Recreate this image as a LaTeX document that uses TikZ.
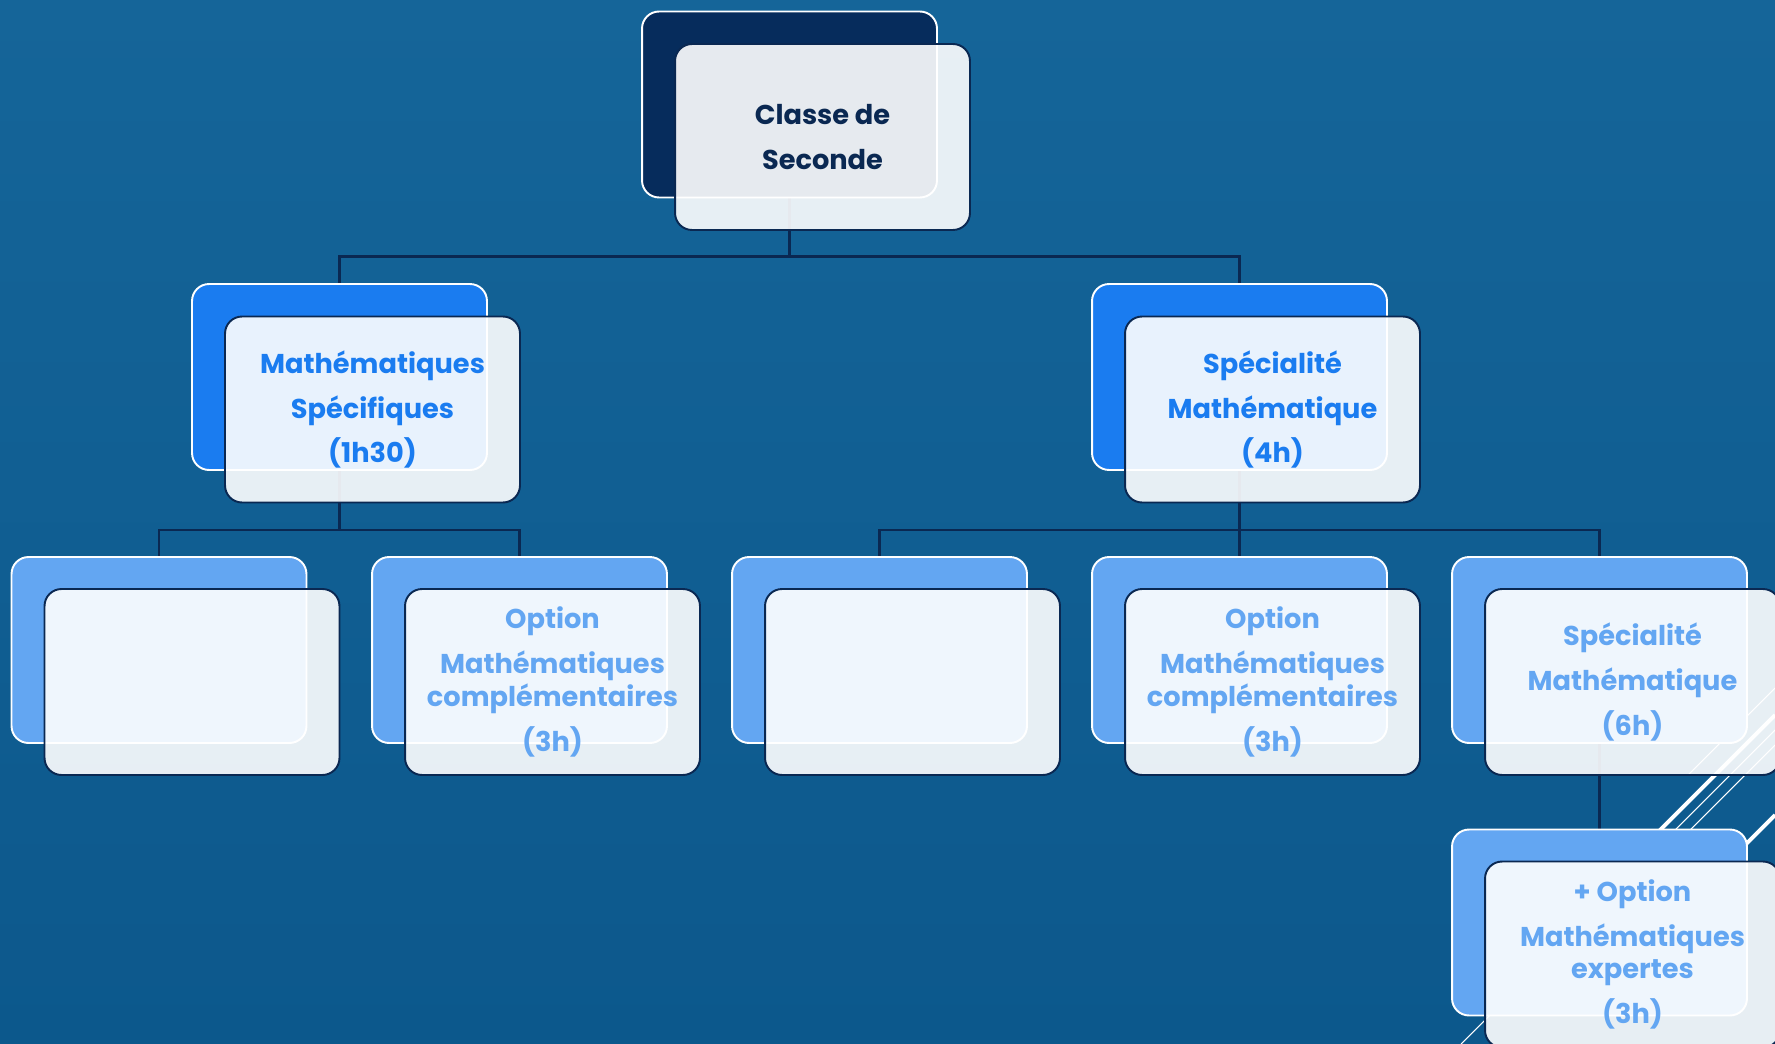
\documentclass[tikz,border=0pt]{standalone}
\usepackage{fontspec}
\setmainfont{Poppins}
\usetikzlibrary{backgrounds}

\definecolor{slidetop}{RGB}{21,101,153}
\definecolor{slidebot}{RGB}{12,88,140}
\definecolor{navy}{RGB}{6,44,92}
\definecolor{linenavy}{RGB}{10,40,82}
\definecolor{brightblue}{RGB}{26,124,240}
\definecolor{paleblue}{RGB}{99,166,242}

\begin{document}
\begin{tikzpicture}[
            x = 0.02cm, y = -0.02cm, % one unit per pixel, y going down
            backbox/.style = {
                draw = white,
                line width = 1.1pt,
                rounded corners = 0.34cm,
                minimum width = 5.9cm,
                minimum height = 3.72cm
            },
            frontbox/.style = {
                draw = linenavy,
                line width = 1.1pt,
                rounded corners = 0.34cm,
                fill = white,
                fill opacity = 0.9,
                text opacity = 1,
                minimum width = 5.9cm,
                minimum height = 3.72cm,
                align = center,
                font = \bfseries\fontsize{15.5}{18.7}\selectfont
            },
            link/.style = {draw = linenavy, line width = 1.4pt},
        ]

  \useasboundingbox (0,0) rectangle (1775,1044);

  % top
  \node[backbox, fill = navy] (rootb) at (789.5,104.5) {};
  \node[frontbox, text = linenavy] (root) at (822.5,137) {Classe de\\[6.8pt]Seconde};

  % second row
  \node[backbox, fill = brightblue] (specb) at (339.5,377) {};
  \node[frontbox, text = brightblue] (spec) at (372.5,409.5) {Mathématiques\\[6.8pt]Spécifiques\\[6.8pt](1h30)};
  \node[backbox, fill = brightblue] (mathb) at (1239.5,377) {};
  \node[frontbox, text = brightblue] (math) at (1272.5,409.5) {Spécialité\\[6.8pt]Mathématique\\[6.8pt](4h)};

  % third row
  \node[backbox, fill = paleblue] (c1b) at (159,650) {};
  \node[frontbox] (c1) at (192,682) {};
  \node[backbox, fill = paleblue] (c2b) at (519.5,650) {};
  \node[frontbox, text = paleblue] (c2) at (552.5,682) {Option\\[6.8pt]Mathématiques\\complémentaires\\[6.8pt](3h)};
  \node[backbox, fill = paleblue] (c3b) at (879.5,650) {};
  \node[frontbox] (c3) at (912.5,682) {};
  \node[backbox, fill = paleblue] (c4b) at (1239.5,650) {};
  \node[frontbox, text = paleblue] (c4) at (1272.5,682) {Option\\[6.8pt]Mathématiques\\complémentaires\\[6.8pt](3h)};
  \node[backbox, fill = paleblue] (c5b) at (1599.5,650) {};
  \node[frontbox, text = paleblue] (c5) at (1632.5,682) {Spécialité\\[6.8pt]Mathématique\\[6.8pt](6h)};

  % last row
  \node[backbox, fill = paleblue] (expb) at (1599.5,922.5) {};
  \node[frontbox, text = paleblue] (exp) at (1632.5,954.5) {+ Option\\[6.8pt]Mathématiques\\expertes\\[6.8pt](3h)};

  \begin{scope}[on background layer]
    \fill[top color = slidetop, bottom color = slidebot] (0,0) rectangle (1775,1044);
    % slide decoration: x+y / lower end / width
    \foreach \c/\y/\w in {2463/775/0.6pt, 2490/840/2.2pt, 2505/1044/0.6pt, 2520/840/0.6pt, 2590/860/2.2pt}
      \draw[white, line width = \w] (\c-\y,\y) -- (1775,\c-1775);

    \path[link] (rootb.south) -- ++(0,58) -| (specb.north);
    \path[link] (rootb.south) -- ++(0,58) -| (mathb.north);
    \path[link] (specb.south) -- ++(0,59) -| (c1b.north);
    \path[link] (specb.south) -- ++(0,59) -| (c2b.north);
    \path[link] (mathb.south) -- ++(0,59) -| (c3b.north);
    \path[link] (mathb.south) -- ++(0,59) -| (c4b.north);
    \path[link] (mathb.south) -- ++(0,59) -| (c5b.north);
    \path[link] (c5b.south) -- (expb.north);
  \end{scope}

\end{tikzpicture}
\end{document}
